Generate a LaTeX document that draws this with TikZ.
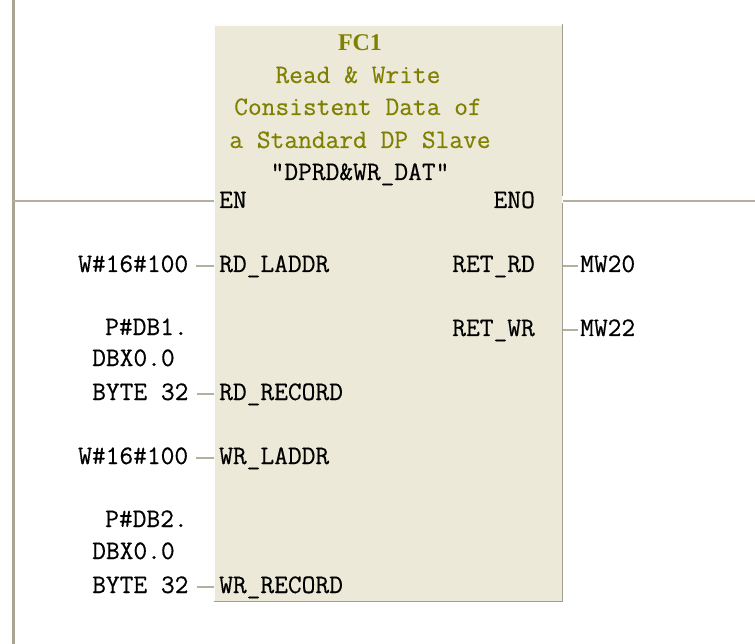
\documentclass[tikz,border=0pt]{standalone}
\usepackage{fontspec}
\setmonofont{Latin Modern Mono}[FakeBold=0.4]
\newfontfamily\hdrfont{Latin Modern Mono}[FakeBold=0.3]
\newfontfamily\hdrbold{Liberation Serif Bold}
\definecolor{boxfill}{HTML}{ECE9D8}
\definecolor{wirecol}{HTML}{B4B09C}
\definecolor{railcol}{HTML}{A8A592}
\definecolor{olive}{HTML}{808000}
\definecolor{edgedark}{HTML}{A09E90}
\tikzset{
  x=1pt,y=-1pt,
  base text/.style={inner sep=0pt,text height=14pt,text depth=2pt,font=\ttfamily\fontsize{26.7}{28}\selectfont,text=black},
  pinleft/.style={base text,anchor=west},
  pinright/.style={base text,anchor=east},
  valtext/.style={base text,anchor=west},
  hdr/.style={inner sep=0pt,text height=16pt,text depth=0pt,anchor=center,font=\hdrfont\fontsize{26.7}{28}\selectfont,text=olive},
  wire/.style={draw=wirecol,line width=2.6pt},
  rail/.style={draw=railcol,line width=3pt},
}
\begin{document}
\begin{tikzpicture}
\useasboundingbox (0,0) rectangle (755,644);
\fill[white] (0,0) rectangle (755,644);
% block
\fill[boxfill] (214,25) rectangle (562,601);
\draw[white!90!boxfill,line width=1.6pt] (214,601) -- (214,25) -- (562,25);
\draw[edgedark,line width=1.6pt] (562.6,24) -- (562.6,196);
\draw[edgedark,line width=1.6pt] (562.6,203) -- (562.6,601.5) -- (214,601.5);
% rail
\coordinate (railtop) at (13,0);
\coordinate (railbot) at (13,644);
\coordinate (railen) at (13,201);
\coordinate (outeno) at (755,201);
\coordinate (boxen) at (214,201);
\coordinate (boxeno) at (563,201);
\draw[rail] (railtop) -- (railbot);
% header
\node[hdr,font=\hdrbold\fontsize{24}{28}\selectfont] (fc) at (360,43) {FC1};
\node[hdr] (t1) at (358,75) {Read \& Write};
\node[hdr] (t2) at (358,107) {Consistent Data of};
\node[hdr] (t3) at (360,140) {a Standard DP Slave};
\node[base text,anchor=center,text height=16pt,text depth=0pt] (t4) at (360,172) {"DPRD\&WR\_DAT"};
% pins
\node[pinleft] (en) at (219,202) {EN};
\node[pinright] (eno) at (535,202) {ENO};
\node[pinleft] (rdl) at (219,266) {RD\_LADDR};
\node[pinleft] (rdr) at (219,394) {RD\_RECORD};
\node[pinleft] (wrl) at (219,458) {WR\_LADDR};
\node[pinleft] (wrr) at (219,587) {WR\_RECORD};
\node[pinright] (retrd) at (535,266) {RET\_RD};
\node[pinright] (retwr) at (535,330) {RET\_WR};
% values
\node[valtext] (v1) at (78,266) {W\#16\#100};
\node[valtext] (p1a) at (105,329) {P\#DB1.};
\node[valtext] (p1b) at (92,360) {DBX0.0};
\node[valtext] (p1c) at (92,394) {BYTE 32};
\node[valtext] (v2) at (78,458) {W\#16\#100};
\node[valtext] (p2a) at (105,521) {P\#DB2.};
\node[valtext] (p2b) at (92,553) {DBX0.0};
\node[valtext] (p2c) at (92,587) {BYTE 32};
\node[valtext] (mw1) at (580,266) {MW20};
\node[valtext] (mw2) at (580,330) {MW22};
% connectors
\draw[wire] (railen) -- (boxen);
\draw[wire] (boxeno) -- (outeno);
\foreach \a/\b in {v1/rdl,p1c/rdr,v2/wrl,p2c/wrr}{
  \draw[wire] ([xshift=8pt]\a.east) -- ([xshift=-5pt]\b.west);
}
\foreach \a/\b in {retrd/mw1,retwr/mw2}{
  \draw[wire] ([xshift=28pt]\a.east) -- ([xshift=-2pt]\b.west);
}
\end{tikzpicture}
\end{document}
